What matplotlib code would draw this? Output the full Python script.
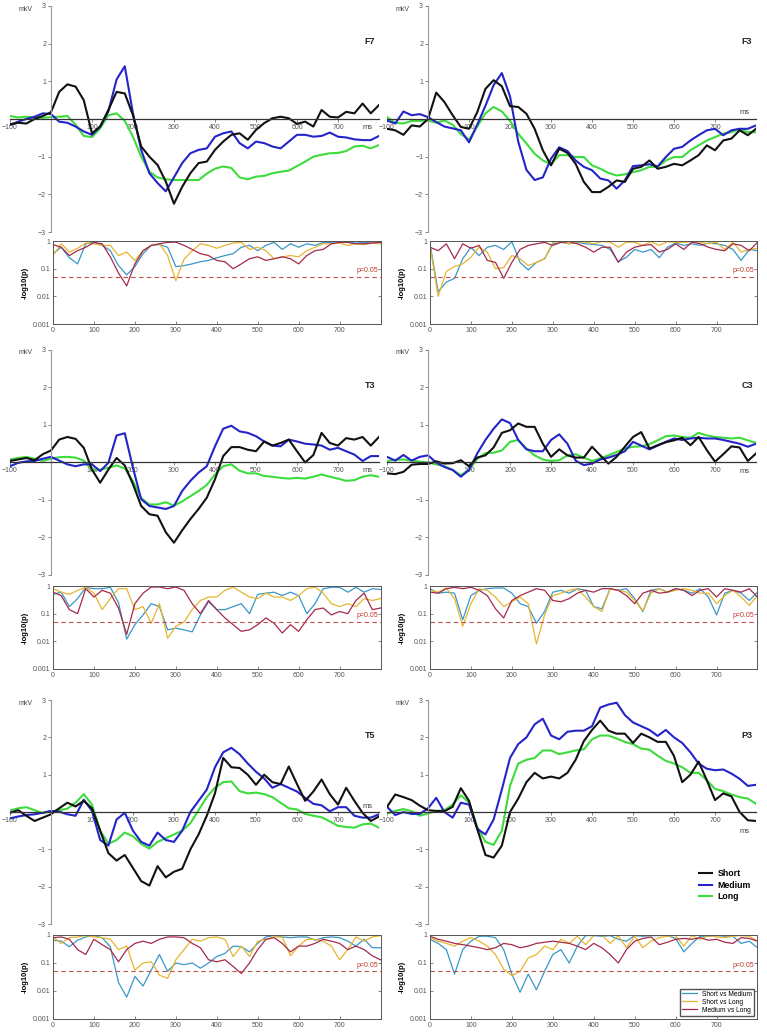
import matplotlib
matplotlib.use('Agg')
import matplotlib.pyplot as plt
from matplotlib.ticker import NullLocator

plt.rcParams['font.family'] = ['Liberation Sans', 'DejaVu Sans']

# time axes (ms)
t_erp = list(range(-100, 801, 20))
t_p = list(range(0, 801, 20))

electrodes = ['F7', 'F3', 'T3', 'C3', 'T5', 'P3']

# ERP amplitudes (mkV), Short / Medium / Long
f7_short = [-0.14, -0.1, -0.12, 0.0, 0.08, 0.18, 0.72, 0.92, 0.86, 0.5, -0.38, -0.2, 0.24, 0.72, 0.68, 0.1,
            -0.73, -1.0, -1.22, -1.66, -2.25, -1.8, -1.44, -1.17, -1.13, -0.82, -0.6, -0.42, -0.38, -0.55,
            -0.29, -0.11, 0.02, 0.06, 0.02, -0.13, -0.07, -0.2, 0.24, 0.06, 0.04, 0.19, 0.15, 0.41, 0.15, 0.37]
f7_medium = [-0.16, -0.07, 0.0, 0.06, 0.15, 0.13, -0.07, -0.1, -0.2, -0.33, -0.42, -0.2, 0.2, 1.05, 1.4, 0.15,
             -0.82, -1.44, -1.7, -1.92, -1.55, -1.17, -0.91, -0.82, -0.78, -0.47, -0.38, -0.33, -0.64, -0.78,
             -0.6, -0.64, -0.73, -0.78, -0.6, -0.42, -0.42, -0.47, -0.45, -0.36, -0.47, -0.49, -0.54, -0.56, -0.56, -0.45]
f7_long = [0.08, 0.04, 0.06, 0.04, 0.03, 0.05, 0.06, 0.08, -0.15, -0.45, -0.48, -0.25, 0.1, 0.15, -0.05, -0.47,
           -1.0, -1.4, -1.55, -1.6, -1.62, -1.62, -1.62, -1.62, -1.45, -1.32, -1.26, -1.3, -1.55, -1.6,
           -1.53, -1.51, -1.44, -1.4, -1.37, -1.25, -1.13, -1.0, -0.95, -0.91, -0.9, -0.85, -0.73, -0.71, -0.78, -0.69]

f3_short = [-0.26, -0.3, -0.42, -0.17, -0.2, 0.0, 0.7, 0.45, 0.1, -0.21, -0.26, 0.18, 0.8, 1.03, 0.87, 0.34,
            0.32, 0.14, -0.26, -0.83, -1.23, -0.79, -0.9, -1.19, -1.67, -1.94, -1.94, -1.8, -1.63, -1.67,
            -1.32, -1.27, -1.1, -1.32, -1.27, -1.19, -1.23, -1.1, -0.96, -0.7, -0.83, -0.57, -0.52, -0.3, -0.43, -0.26]
f3_medium = [-0.04, -0.12, 0.2, 0.1, 0.13, 0.05, -0.08, -0.2, -0.25, -0.3, -0.62, -0.15, 0.35, 0.9, 1.22, 0.6,
             -0.6, -1.35, -1.62, -1.55, -1.05, -0.75, -0.85, -1.1, -1.27, -1.36, -1.58, -1.63, -1.85, -1.63,
             -1.25, -1.23, -1.2, -1.26, -1.01, -0.79, -0.74, -0.57, -0.43, -0.3, -0.26, -0.43, -0.3, -0.26, -0.26, -0.17]
f3_long = [0.05, -0.1, -0.12, -0.05, -0.05, -0.04, -0.1, -0.04, -0.15, -0.4, -0.55, -0.2, 0.15, 0.32, 0.2, -0.05,
           -0.39, -0.65, -0.92, -1.1, -1.2, -0.96, -0.96, -1.01, -1.01, -1.23, -1.32, -1.43, -1.5, -1.47,
           -1.41, -1.36, -1.27, -1.27, -1.1, -1.01, -1.01, -0.83, -0.7, -0.57, -0.48, -0.39, -0.35, -0.26, -0.35, -0.35]

t3_short = [0.04, 0.08, 0.12, 0.06, 0.22, 0.32, 0.61, 0.68, 0.63, 0.39, -0.19, -0.54, -0.19, 0.12, -0.08, -0.58,
            -1.16, -1.38, -1.42, -1.86, -2.14, -1.81, -1.51, -1.24, -0.94, -0.45, 0.17, 0.41, 0.41, 0.34,
            0.3, 0.56, 0.45, 0.52, 0.61, 0.3, 0.0, 0.2, 0.79, 0.52, 0.45, 0.65, 0.61, 0.68, 0.45, 0.68]
t3_medium = [-0.1, -0.01, 0.03, 0.04, 0.1, 0.15, 0.05, -0.05, -0.1, -0.05, -0.05, -0.23, -0.01, 0.72, 0.78, -0.14,
             -0.98, -1.16, -1.2, -1.24, -1.16, -0.76, -0.49, -0.27, -0.1, 0.43, 0.9, 0.98, 0.83, 0.79,
             0.7, 0.56, 0.45, 0.43, 0.61, 0.56, 0.5, 0.48, 0.45, 0.34, 0.39, 0.3, 0.21, 0.04, 0.17, 0.17]
t3_long = [0.08, 0.12, 0.15, 0.1, 0.04, 0.1, 0.14, 0.15, 0.13, 0.05, -0.2, -0.19, -0.14, -0.08, -0.16, -0.5,
           -0.95, -1.12, -1.12, -1.06, -1.15, -1.04, -0.9, -0.76, -0.6, -0.32, -0.1, -0.05, -0.22, -0.29,
           -0.29, -0.36, -0.38, -0.41, -0.43, -0.41, -0.43, -0.38, -0.32, -0.38, -0.43, -0.49, -0.47, -0.38, -0.34, -0.38]

c3_short = [-0.29, -0.31, -0.25, -0.06, -0.04, -0.04, 0.03, -0.03, -0.02, 0.06, -0.1, 0.13, 0.19, 0.4, 0.79, 0.86,
            1.04, 0.95, 0.95, 0.5, 0.15, 0.35, 0.19, 0.13, 0.13, 0.42, 0.19, -0.03, 0.15, 0.42,
            0.68, 0.81, 0.37, 0.46, 0.54, 0.59, 0.66, 0.46, 0.68, 0.33, 0.02, 0.22, 0.43, 0.4, 0.04, 0.24]
c3_medium = [0.15, 0.05, 0.2, 0.05, 0.15, 0.19, 0.0, -0.12, -0.2, -0.38, -0.2, 0.24, 0.6, 0.9, 1.15, 1.05,
             0.6, 0.35, 0.3, 0.3, 0.6, 0.75, 0.5, 0.05, -0.07, -0.03, 0.08, 0.13, 0.2, 0.3,
             0.55, 0.45, 0.35, 0.45, 0.55, 0.64, 0.6, 0.64, 0.66, 0.64, 0.64, 0.6, 0.55, 0.5, 0.42, 0.5]
c3_long = [0.04, 0.07, 0.08, 0.05, 0.02, 0.0, -0.05, -0.1, -0.2, -0.34, -0.2, 0.1, 0.25, 0.26, 0.32, 0.55,
           0.6, 0.37, 0.19, 0.08, 0.04, 0.06, 0.19, 0.22, 0.13, 0.04, 0.11, 0.19, 0.28, 0.37,
           0.42, 0.43, 0.49, 0.59, 0.7, 0.72, 0.68, 0.66, 0.79, 0.72, 0.68, 0.66, 0.64, 0.66, 0.59, 0.52]

t5_short = [-0.02, 0.05, -0.1, -0.24, -0.15, -0.06, 0.1, 0.25, 0.15, 0.3, 0.1, -0.5, -1.1, -1.3, -1.15, -1.5,
            -1.85, -1.97, -1.45, -1.75, -1.6, -1.52, -1.0, -0.6, -0.1, 0.5, 1.45, 1.2, 1.18, 1.0,
            0.73, 1.0, 0.8, 0.75, 1.22, 0.75, 0.3, 0.55, 0.87, 0.48, 0.2, 0.65, 0.3, -0.02, -0.24, -0.12]
t5_medium = [-0.17, -0.12, -0.08, -0.06, -0.02, 0.03, 0.01, -0.06, -0.1, 0.33, 0.03, -0.75, -0.9, -0.2, -0.02, -0.5,
             -0.8, -0.9, -0.55, -0.75, -0.8, -0.5, 0.0, 0.3, 0.6, 1.2, 1.6, 1.72, 1.55, 1.3,
             1.08, 0.9, 0.65, 0.75, 0.65, 0.55, 0.38, 0.22, 0.18, 0.02, 0.13, 0.13, -0.1, -0.15, -0.15, -0.06]
t5_long = [0.04, 0.1, 0.13, 0.05, -0.03, 0.02, 0.05, 0.09, 0.25, 0.48, 0.2, -0.5, -0.85, -0.75, -0.55, -0.65,
           -0.85, -0.98, -0.8, -0.7, -0.6, -0.5, -0.3, 0.05, 0.4, 0.65, 0.8, 0.82, 0.56, 0.5,
           0.52, 0.48, 0.4, 0.25, 0.1, 0.07, -0.05, -0.1, -0.14, -0.25, -0.37, -0.4, -0.42, -0.33, -0.31, -0.42]

p3_short = [0.14, 0.47, 0.4, 0.32, 0.17, 0.05, 0.03, 0.02, 0.14, 0.64, 0.3, -0.45, -1.15, -1.22, -0.9, 0.0,
            0.36, 0.8, 1.05, 0.9, 0.95, 0.9, 1.05, 1.4, 1.9, 2.2, 2.45, 2.18, 2.1, 2.1,
            1.85, 2.1, 2.0, 1.88, 1.88, 1.5, 0.8, 1.0, 1.35, 0.85, 0.32, 0.5, 0.42, 0.0, -0.22, -0.24]
p3_medium = [0.14, -0.08, 0.0, -0.05, -0.05, 0.1, 0.38, 0.0, -0.15, 0.25, 0.2, -0.45, -0.6, -0.2, 0.6, 1.45,
             1.82, 2.0, 2.35, 2.5, 2.05, 1.95, 2.15, 2.18, 2.18, 2.3, 2.8, 2.88, 2.93, 2.6,
             2.4, 2.3, 2.2, 2.04, 2.2, 2.0, 1.85, 1.6, 1.3, 1.16, 1.12, 1.14, 1.03, 0.89, 0.7, 0.73]
p3_long = [-0.04, 0.03, 0.08, 0.02, -0.1, -0.04, 0.03, 0.05, 0.2, 0.45, 0.25, -0.4, -0.8, -0.88, -0.5, 0.7,
           1.3, 1.4, 1.45, 1.65, 1.65, 1.55, 1.6, 1.65, 1.68, 1.95, 2.05, 2.05, 1.97, 1.88,
           1.82, 1.7, 1.67, 1.51, 1.37, 1.3, 1.2, 1.05, 1.05, 0.85, 0.62, 0.56, 0.47, 0.4, 0.36, 0.22]

# p-values of pairwise comparisons (Short vs Medium / Short vs Long / Medium vs Long)
f7_sm = [0.35, 0.6, 0.25, 0.15, 0.8, 0.9, 0.7, 0.45, 0.13, 0.06, 0.12, 0.35, 0.7, 0.75, 0.6, 0.12, 0.13, 0.15, 0.18, 0.2,
         0.25, 0.3, 0.35, 0.6, 0.7, 0.45, 0.7, 0.9, 0.5, 0.8, 0.6, 0.8, 0.7, 0.9, 0.9, 0.95, 0.9, 0.85, 0.9, 0.85, 0.9]
f7_sl = [0.3, 0.8, 0.4, 0.55, 0.85, 0.8, 0.7, 0.7, 0.3, 0.4, 0.2, 0.45, 0.7, 0.8, 0.3, 0.037, 0.22, 0.45, 0.8, 0.7,
         0.55, 0.7, 0.85, 0.9, 0.5, 0.6, 0.45, 0.23, 0.27, 0.3, 0.27, 0.45, 0.6, 0.8, 0.8, 0.85, 0.7, 0.8, 0.75, 0.85, 0.8]
f7_ml = [0.75, 0.6, 0.3, 0.45, 0.6, 0.9, 0.8, 0.27, 0.07, 0.024, 0.15, 0.45, 0.7, 0.8, 0.9, 0.92, 0.7, 0.5, 0.35, 0.3,
         0.2, 0.18, 0.1, 0.15, 0.23, 0.27, 0.2, 0.23, 0.27, 0.23, 0.15, 0.3, 0.45, 0.5, 0.8, 0.9, 0.9, 0.8, 0.8, 0.85, 0.9]

f3_sm = [0.8, 0.015, 0.033, 0.045, 0.23, 0.6, 0.3, 0.6, 0.7, 0.5, 0.95, 0.17, 0.09, 0.17, 0.23, 0.8, 0.9, 0.8, 0.9, 0.8,
         0.75, 0.7, 0.5, 0.18, 0.26, 0.5, 0.4, 0.5, 0.25, 0.6, 0.85, 0.7, 0.8, 0.7, 0.85, 0.8, 0.7, 0.5, 0.2, 0.5, 0.45]
f3_sl = [0.7, 0.01, 0.08, 0.12, 0.15, 0.26, 0.6, 0.4, 0.1, 0.11, 0.3, 0.23, 0.13, 0.17, 0.23, 0.9, 0.95, 0.8, 0.95, 0.92,
         0.8, 0.95, 0.92, 0.6, 0.92, 0.9, 0.7, 0.95, 0.7, 0.95, 0.9, 0.9, 0.95, 0.92, 0.8, 0.92, 0.5, 0.9, 0.4, 0.5, 0.55]
f3_ml = [0.6, 0.45, 0.8, 0.23, 0.8, 0.55, 0.7, 0.2, 0.17, 0.045, 0.17, 0.5, 0.7, 0.8, 0.9, 0.7, 0.9, 0.95, 0.8, 0.6,
         0.4, 0.6, 0.6, 0.17, 0.4, 0.6, 0.7, 0.75, 0.4, 0.5, 0.8, 0.5, 0.92, 0.8, 0.6, 0.5, 0.45, 0.8, 0.7, 0.45, 0.9]

t3_sm = [0.5, 0.6, 0.18, 0.35, 0.9, 0.8, 0.8, 0.9, 0.25, 0.012, 0.04, 0.09, 0.23, 0.18, 0.026, 0.03, 0.026, 0.022, 0.09, 0.27,
         0.14, 0.14, 0.18, 0.23, 0.1, 0.5, 0.55, 0.6, 0.45, 0.6, 0.45, 0.1, 0.23, 0.8, 0.9, 0.9, 0.6, 0.9, 0.6, 0.8, 0.75]
t3_sl = [0.8, 0.6, 0.5, 0.7, 0.9, 0.55, 0.14, 0.35, 0.8, 0.8, 0.14, 0.18, 0.045, 0.23, 0.013, 0.035, 0.05, 0.14, 0.3, 0.4,
         0.4, 0.7, 0.92, 0.6, 0.4, 0.35, 0.55, 0.4, 0.4, 0.3, 0.45, 0.8, 0.92, 0.55, 0.23, 0.18, 0.23, 0.18, 0.35, 0.3, 0.35]
t3_ml = [0.6, 0.45, 0.14, 0.1, 0.8, 0.4, 0.7, 0.55, 0.16, 0.018, 0.23, 0.55, 0.92, 0.92, 0.8, 0.92, 0.7, 0.23, 0.1, 0.3,
         0.14, 0.07, 0.04, 0.023, 0.026, 0.04, 0.07, 0.045, 0.02, 0.04, 0.023, 0.06, 0.14, 0.16, 0.09, 0.12, 0.1, 0.3, 0.55, 0.14, 0.16]

c3_sm = [0.8, 0.55, 0.6, 0.55, 0.06, 0.45, 0.7, 0.8, 0.85, 0.85, 0.55, 0.23, 0.18, 0.045, 0.12, 0.6, 0.7, 0.55, 0.8, 0.7,
         0.18, 0.15, 0.8, 0.7, 0.8, 0.35, 0.12, 0.7, 0.8, 0.6, 0.8, 0.7, 0.55, 0.8, 0.4, 0.09, 0.55, 0.7, 0.55, 0.3, 0.6]
c3_sl = [0.7, 0.6, 0.85, 0.35, 0.035, 0.23, 0.8, 0.7, 0.4, 0.18, 0.27, 0.4, 0.23, 0.008, 0.09, 0.45, 0.55, 0.7, 0.8, 0.4,
         0.18, 0.12, 0.8, 0.7, 0.6, 0.3, 0.13, 0.55, 0.8, 0.6, 0.7, 0.8, 0.7, 0.55, 0.55, 0.23, 0.45, 0.7, 0.4, 0.2, 0.45]
c3_ml = [0.6, 0.55, 0.8, 0.9, 0.8, 0.9, 0.7, 0.45, 0.15, 0.07, 0.3, 0.45, 0.6, 0.8, 0.7, 0.3, 0.27, 0.35, 0.55, 0.7,
         0.6, 0.8, 0.8, 0.7, 0.45, 0.23, 0.55, 0.7, 0.55, 0.6, 0.8, 0.7, 0.45, 0.7, 0.8, 0.4, 0.8, 0.7, 0.6, 0.8, 0.4]

t5_sm = [0.65, 0.6, 0.38, 0.65, 0.85, 0.95, 0.8, 0.38, 0.02, 0.006, 0.033, 0.015, 0.056, 0.2, 0.05, 0.1, 0.087, 0.1, 0.065, 0.1,
         0.17, 0.22, 0.4, 0.38, 0.25, 0.5, 0.85, 0.95, 0.85, 0.8, 0.85, 0.85, 0.65, 0.8, 0.85, 0.8, 0.6, 0.4, 0.7, 0.35, 0.35]
t5_sl = [0.85, 0.5, 0.8, 0.85, 0.95, 0.85, 0.8, 0.7, 0.3, 0.4, 0.056, 0.1, 0.11, 0.037, 0.028, 0.13, 0.3, 0.7, 0.6, 0.8,
         0.85, 0.7, 0.17, 0.4, 0.17, 0.6, 0.7, 0.85, 0.85, 0.18, 0.4, 0.7, 0.7, 0.6, 0.4, 0.13, 0.3, 0.85, 0.6, 0.85, 0.95]
t5_ml = [0.8, 0.85, 0.7, 0.3, 0.2, 0.7, 0.45, 0.3, 0.11, 0.3, 0.5, 0.6, 0.5, 0.7, 0.85, 0.85, 0.8, 0.5, 0.35, 0.13,
         0.11, 0.13, 0.075, 0.042, 0.1, 0.3, 0.7, 0.8, 0.5, 0.25, 0.4, 0.4, 0.5, 0.7, 0.6, 0.5, 0.3, 0.4, 0.3, 0.18, 0.13]

p3_sm = [0.7, 0.5, 0.3, 0.04, 0.3, 0.6, 0.9, 0.9, 0.8, 0.3, 0.04, 0.009, 0.04, 0.011, 0.05, 0.2, 0.3, 0.1, 0.4, 0.95,
         0.95, 0.9, 0.95, 0.7, 0.6, 0.95, 0.9, 0.95, 0.95, 0.95, 0.75, 0.25, 0.5, 0.9, 0.9, 0.95, 0.9, 0.9, 0.5, 0.6, 0.35]
p3_sl = [0.8, 0.6, 0.5, 0.4, 0.6, 0.8, 0.6, 0.4, 0.2, 0.06, 0.035, 0.05, 0.15, 0.2, 0.4, 0.3, 0.7, 0.5, 0.9, 0.45,
         0.95, 1.0, 0.5, 0.95, 0.35, 0.9, 0.35, 0.6, 0.8, 0.9, 0.95, 0.4, 0.95, 0.7, 0.95, 0.85, 0.8, 0.9, 0.95, 0.9, 0.6]
p3_ml = [0.9, 0.7, 0.6, 0.5, 0.45, 0.4, 0.35, 0.3, 0.35, 0.5, 0.45, 0.35, 0.4, 0.5, 0.55, 0.6, 0.55, 0.5, 0.4, 0.3,
         0.5, 0.35, 0.2, 0.1, 0.3, 0.6, 0.75, 0.85, 0.45, 0.55, 0.7, 0.75, 0.7, 0.8, 0.65, 0.7, 0.55, 0.5, 0.8, 0.75, 0.6]

erp_data = {
    'F7': (f7_short, f7_medium, f7_long), 'F3': (f3_short, f3_medium, f3_long),
    'T3': (t3_short, t3_medium, t3_long), 'C3': (c3_short, c3_medium, c3_long),
    'T5': (t5_short, t5_medium, t5_long), 'P3': (p3_short, p3_medium, p3_long),
}
p_data = {
    'F7': (f7_sm, f7_sl, f7_ml), 'F3': (f3_sm, f3_sl, f3_ml),
    'T3': (t3_sm, t3_sl, t3_ml), 'C3': (c3_sm, c3_sl, c3_ml),
    'T5': (t5_sm, t5_sl, t5_ml), 'P3': (p3_sm, p3_sl, p3_ml),
}
# where the "ms" unit sits (mkV) in each panel
ms_y = {'F7': -0.22, 'F3': 0.17, 'T3': -0.22, 'C3': -0.25, 'T5': 0.15, 'P3': -0.52}

cond_names = ['Short', 'Medium', 'Long']
cond_colors = ['#111111', '#2424c8', '#3ddc3d']
cmp_names = ['Short vs Medium', 'Short vs Long', 'Medium vs Long']
cmp_colors = ['#3a97c8', '#e8b530', '#a52a4a']

fig = plt.figure(figsize=(7.67, 10.33), dpi=100)

erp_rows = [(0.7754, 0.2188), (0.4434, 0.2178), (0.1055, 0.2168)]
p_rows = [(0.6863, 0.0803), (0.3524, 0.0803), (0.0136, 0.0813)]
erp_x = [0.0130, 0.5046]
p_x = [0.0691, 0.5606]

for i, el in enumerate(electrodes):
    r, c = divmod(i, 2)

    # ERP waveforms
    ax = fig.add_axes([erp_x[c], erp_rows[r][0], 0.4811, erp_rows[r][1]])
    short, medium, long_ = erp_data[el]
    ax.plot(t_erp, long_, color=cond_colors[2], lw=1.5, label=cond_names[2])
    ax.plot(t_erp, medium, color=cond_colors[1], lw=1.5, label=cond_names[1])
    ax.plot(t_erp, short, color=cond_colors[0], lw=1.5, label=cond_names[0])
    ax.set_xlim(-100, 800)
    ax.set_ylim(-3, 3)
    ax.spines['top'].set_visible(False)
    ax.spines['right'].set_visible(False)
    ax.spines['left'].set_position(('data', 0))
    ax.spines['bottom'].set_position(('data', 0))
    ax.spines['left'].set_color('#999999')
    ax.spines['left'].set_linewidth(0.8)
    ax.spines['bottom'].set_color('#333333')
    ax.spines['bottom'].set_linewidth(0.9)
    ax.set_xticks([-100, 100, 200, 300, 400, 500, 600, 700])
    ax.set_yticks([-3, -2, -1, 1, 2, 3])
    ax.tick_params(labelsize=5, length=2, width=0.5, colors='#555555', pad=1.5)
    ax.patch.set_alpha(0)
    ax.text(-45, 2.92, 'mkV', fontsize=5, color='#444444', ha='right', va='center')
    ax.text(772, ms_y[el], 'ms', fontsize=5.5, color='#444444', ha='center', va='center')
    ax.text(778, 2.05, el, fontsize=6.5, fontweight='bold', color='#222222', ha='center', va='center')
    if el == 'P3':
        handles, labels = ax.get_legend_handles_labels()
        ax.legend(handles[::-1], labels[::-1], loc='upper left', bbox_to_anchor=(0.825, 0.28),
                  frameon=False, handlelength=1.5, handletextpad=0.6, labelspacing=0.3,
                  prop={'size': 6.3, 'weight': 'bold'})

    # p-value traces
    pax = fig.add_axes([p_x[c], p_rows[r][0], 0.427, p_rows[r][1]])
    for vals, name, col in zip(p_data[el], cmp_names, cmp_colors):
        pax.plot(t_p, vals, color=col, lw=0.9, label=name)
    pax.set_yscale('log')
    pax.set_ylim(0.001, 1)
    pax.set_xlim(0, 800)
    pax.axhline(0.05, color='#c0504d', ls=(0, (4, 3)), lw=0.8)
    pax.text(793, 0.062, 'p=0.05', fontsize=5, color='#c0392b', ha='right', va='bottom')
    pax.set_yticks([0.001, 0.01, 0.1, 1])
    pax.set_yticklabels(['0.001', '0.01', '0.1', '1'])
    pax.yaxis.set_minor_locator(NullLocator())
    pax.set_xticks(range(0, 701, 100))
    pax.tick_params(labelsize=5, length=2, width=0.5, direction='in', colors='#555555',
                    right=True, pad=2)
    for s in pax.spines.values():
        s.set_color('#555555')
        s.set_linewidth(0.7)
    pax.set_ylabel('-log10(p)', fontsize=5.5, fontweight='bold', labelpad=3)
    if el == 'P3':
        pax.legend(loc='lower right', fontsize=4.8, handlelength=2.2, labelspacing=0.15,
                   borderpad=0.3, fancybox=False, edgecolor='#555555', framealpha=1)

fig.savefig('out.png', dpi=100)
